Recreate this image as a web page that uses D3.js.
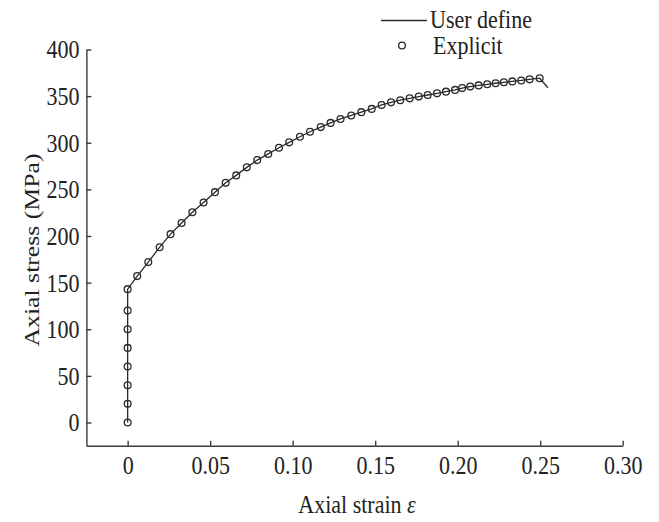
<!DOCTYPE html>
<html>
<head>
<meta charset="utf-8">
<script src="https://cdn.jsdelivr.net/npm/d3@7"></script>
<style>
  html, body { margin: 0; padding: 0; background: #fff; }
  svg { display: block; }
  text { font-family: "Liberation Serif", "Times New Roman", serif; fill: #222; }
</style>
</head>
<body>
<svg id="chart" width="659" height="522"></svg>
<script>
// ---- data ----
const explicitStrain = [
  0, 0, 0, 0, 0, 0, 0, 0,
  0.0058, 0.0125, 0.0194, 0.0260, 0.0327, 0.0392, 0.0460, 0.0529, 0.0594, 0.0658,
  0.0722, 0.0785, 0.0852, 0.0917, 0.0979, 0.1044, 0.1105, 0.1170, 0.1230, 0.1290,
  0.1355, 0.1416, 0.1479, 0.1539, 0.1596, 0.1652, 0.1709, 0.1764, 0.1818, 0.1875,
  0.1929, 0.1984, 0.2027, 0.2076, 0.2127, 0.2179, 0.2230, 0.2280, 0.2331, 0.2385,
  0.2436, 0.2497
];
const explicitStress = [
  0, 20, 40, 60, 80, 100, 120, 143,
  157, 172, 188, 202, 214, 225.5, 236, 247, 257, 265,
  273.6, 281.4, 288, 294.6, 300.4, 306.4, 311.8, 316.8, 321.3, 325.5,
  329.3, 332.8, 336.3, 340.5, 343.3, 345.6, 347.6, 349.5, 351.2, 353,
  354.8, 356.7, 358.6, 360.2, 361.5, 362.7, 363.8, 364.8, 365.8, 366.8,
  368, 369.2
];
// "User define" curve: passes through the same states, then drops at the end
const userStrain = explicitStrain.concat([0.2547]);
const userStress = explicitStress.concat([359]);

const xTicks = [0, 0.05, 0.10, 0.15, 0.20, 0.25, 0.30];
const xTickLabels = ["0", "0.05", "0.10", "0.15", "0.20", "0.25", "0.30"];
const yTicks = [0, 50, 100, 150, 200, 250, 300, 350, 400];
const seriesNames = ["User define", "Explicit"];

// ---- layout ----
const svg = d3.select("#chart");
const x = d3.scaleLinear().domain([-0.025, 0.30]).range([86.4, 622.7]);
const y = d3.scaleLinear().domain([-25, 400]).range([445.8, 49.5]);
const axisColor = "#3a3a3a";
const ink = "#2a2a2a";
const fs = 22;
const sy = 1.17; // glyphs in the reference are vertically stretched

// x axis
const xAxis = d3.axisBottom(x)
  .tickValues(xTicks)
  .tickFormat((d, i) => xTickLabels[i])
  .tickSizeInner(-5)
  .tickSizeOuter(0);
const gx = svg.append("g").attr("transform", `translate(0,${y(-25)})`).call(xAxis);
gx.select(".domain").attr("stroke", axisColor).attr("stroke-width", 1.4);
gx.selectAll(".tick line").attr("stroke", axisColor).attr("stroke-width", 1.4);
gx.selectAll(".tick text")
  .attr("font-size", fs).attr("fill", "#222")
  .attr("font-family", '"Liberation Serif", serif')
  .attr("y", null).attr("dy", null)
  .attr("transform", `translate(0,${28}) scale(1,${sy})`);

// y axis
const yAxis = d3.axisLeft(y)
  .tickValues(yTicks)
  .tickFormat(d3.format("d"))
  .tickSizeInner(-5)
  .tickSizeOuter(0);
const gy = svg.append("g").attr("transform", `translate(${x(-0.025)},0)`).call(yAxis);
gy.select(".domain").attr("stroke", axisColor).attr("stroke-width", 1.4);
gy.selectAll(".tick line").attr("stroke", axisColor).attr("stroke-width", 1.4);
gy.selectAll(".tick text")
  .attr("font-size", fs).attr("fill", "#222")
  .attr("font-family", '"Liberation Serif", serif')
  .attr("x", null).attr("dy", "0.33em")
  .attr("transform", `translate(-7,0) scale(1,${sy})`);

// axis titles
const xt = svg.append("text")
  .attr("transform", `translate(357,513) scale(1,${sy})`)
  .attr("text-anchor", "middle")
  .attr("font-size", fs);
xt.append("tspan").text("Axial strain ");
xt.append("tspan").attr("font-style", "italic").text("ε");

svg.append("text")
  .attr("transform", `translate(39,250) scale(1,${sy}) rotate(-90)`)
  .attr("text-anchor", "middle")
  .attr("font-size", fs)
  .text("Axial stress (MPa)");

// User define line
const userData = userStrain.map((s, i) => [s, userStress[i]]);
svg.append("path")
  .datum(userData)
  .attr("fill", "none")
  .attr("stroke", ink)
  .attr("stroke-width", 1.3)
  .attr("d", d3.line().x(d => x(d[0])).y(d => y(d[1])));

// Explicit circles
const explicitData = explicitStrain.map((s, i) => [s, explicitStress[i]]);
svg.append("g").selectAll("circle")
  .data(explicitData)
  .join("circle")
  .attr("cx", d => x(d[0]))
  .attr("cy", d => y(d[1]))
  .attr("r", 3.4)
  .attr("fill", "none")
  .attr("stroke", ink)
  .attr("stroke-width", 1.3);

// legend
const lg = svg.append("g");
lg.append("line")
  .attr("x1", 381).attr("x2", 427).attr("y1", 20.5).attr("y2", 20.5)
  .attr("stroke", ink).attr("stroke-width", 1.4);
lg.append("text").attr("transform", `translate(430,27.5) scale(1,${sy})`)
  .attr("font-size", fs).text(seriesNames[0]);
lg.append("circle")
  .attr("cx", 402).attr("cy", 45.5).attr("r", 3.4)
  .attr("fill", "none").attr("stroke", ink).attr("stroke-width", 1.3);
lg.append("text").attr("transform", `translate(433,54) scale(1,${sy})`)
  .attr("font-size", fs).text(seriesNames[1]);
</script>
</body>
</html>
